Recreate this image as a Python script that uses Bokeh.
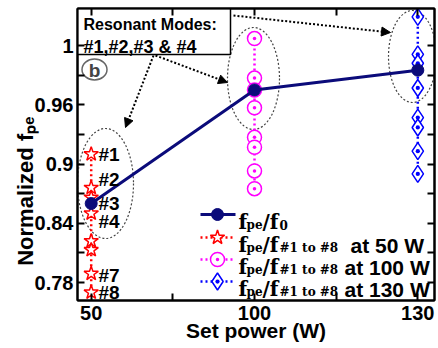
from bokeh.plotting import figure
from bokeh.models import Range1d, FixedTicker, LinearAxis, Label, Arrow, NormalHead
from bokeh.embed import file_html
from bokeh.resources import INLINE

# ---------------- data ----------------
powers = [50, 100, 130]                      # Set power (W), evenly spaced categories
fpe_over_f0 = [0.860, 0.975, 0.995]
modes_50w = [0.910, 0.876, 0.866, 0.850, 0.822, 0.813, 0.789, 0.770]
modes_100w = [1.027, 0.987, 0.975, 0.957, 0.927, 0.917, 0.893, 0.875]
modes_130w = [1.049, 1.011, 1.002, 0.977, 0.947, 0.937, 0.913, 0.890]
mode_names = ["#1", "#2", "#3", "#4", "#5", "#6", "#7", "#8"]
shown_mode_labels = ["#1", "#2", "#3", "#4", "#7", "#8"]
y_ticks = [0.78, 0.84, 0.9, 0.96, 1.02]
y_tick_labels = ["0.78", "0.84", "0.9", "0.96", "1"]
y_minor_ticks = [0.81, 0.87, 0.93, 0.99]
x_minor_ticks = [0.5, 1.5]

xpos = list(range(len(powers)))

# ---------------- helpers (layout only) ----------------
def X(px):
    return (px - 90.7) / 163.3

def Y(py):
    return 0.78 + (282 - py) / 987.5

Y_TOP = Y(8)
X_LEFT = X(77)

SANS = "Liberation Sans"
SERIF = "DejaVu Serif"

p = figure(width=438, height=348, output_backend="svg", toolbar_location=None,
           x_range=Range1d(X_LEFT, X(434)), y_range=Range1d(Y(300), Y_TOP),
           min_border_left=77, min_border_right=4, min_border_top=8,
           min_border_bottom=48)
p.grid.visible = False
p.outline_line_color = "black"
p.outline_line_width = 2
p.background_fill_color = "white"
p.border_fill_color = "white"

def style_axis(ax, show_labels):
    ax.major_tick_in = 7
    ax.major_tick_out = 0
    ax.minor_tick_in = 7
    ax.minor_tick_out = 0
    ax.major_tick_line_width = 2
    ax.minor_tick_line_width = 2
    ax.axis_line_width = 2
    ax.major_tick_line_color = "black"
    ax.minor_tick_line_color = "black"
    ax.axis_line_color = "black"
    if show_labels:
        ax.major_label_text_font = SANS
        ax.major_label_text_font_style = "bold"
        ax.major_label_text_font_size = "20px"
        ax.major_label_text_color = "black"
        ax.axis_label_text_font = SANS
        ax.axis_label_text_font_style = "bold"
        ax.axis_label_text_color = "black"
    else:
        ax.major_label_text_font_size = "1px"
        ax.major_label_standoff = 0

p.xaxis.ticker = FixedTicker(ticks=xpos, minor_ticks=x_minor_ticks)
p.xaxis.major_label_overrides = {i: str(pw) for i, pw in zip(xpos, powers)}
style_axis(p.xaxis[0], True)
p.xaxis.major_label_standoff = 5
p.xaxis.axis_label = "Set power (W)"
p.xaxis.axis_label_text_font_size = "21px"
p.xaxis.axis_label_standoff = -4

p.yaxis.ticker = FixedTicker(ticks=y_ticks, minor_ticks=y_minor_ticks)
p.yaxis.major_label_overrides = dict(zip(y_ticks, y_tick_labels))
style_axis(p.yaxis[0], True)
p.yaxis.major_label_standoff = 4
p.yaxis.axis_label = "Normalized f\u209a\u2091" + "\u00a0" * 12
p.yaxis.axis_label_text_font_size = "22px"
p.yaxis.axis_label_standoff = -6

top_ax = LinearAxis(ticker=FixedTicker(ticks=xpos, minor_ticks=x_minor_ticks),
                    major_label_overrides={i: "" for i in xpos})
style_axis(top_ax, False)
p.add_layout(top_ax, "above")
right_ax = LinearAxis(ticker=FixedTicker(ticks=y_ticks, minor_ticks=y_minor_ticks),
                      major_label_overrides={t: "" for t in y_ticks})
style_axis(right_ax, False)
p.add_layout(right_ax, "right")

# ---------------- dotted ellipses around modes #1-#4 ----------------
ell = dict(fill_color=None, line_color="#444444", line_dash="2 2", line_width=1.2)
p.ellipse(x=[X(105)], y=[Y(183)], width=56 / 163.3, height=110 / 987.5, **ell)
p.ellipse(x=[X(253)], y=[Y(78)], width=52 / 163.3, height=102 / 987.5, **ell)
p.ellipse(x=[X(412)], y=[Y(56)], width=48 / 163.3, height=92 / 987.5, **ell)

# ---------------- mode series ----------------
RED, MAG, BLUE, NAVY = "#ff0000", "#ff00ff", "#0000ff", "#0b0b7a"
p.line([xpos[0]] * len(modes_50w), modes_50w, line_color=RED, line_dash="2 3", line_width=2.5)
p.line([xpos[1]] * len(modes_100w), modes_100w, line_color=MAG, line_dash="2 3", line_width=2.5)
p.line([xpos[2]] * len(modes_130w), modes_130w, line_color=BLUE, line_dash="2 3", line_width=2.5)
p.scatter([xpos[0]] * len(modes_50w), modes_50w, marker="star", size=15,
          line_color=RED, fill_color="white", line_width=1.5)
p.scatter([xpos[1]] * len(modes_100w), modes_100w, marker="circle_dot", size=14,
          line_color=MAG, fill_color="white", line_width=1.5)
p.scatter([xpos[2]] * len(modes_130w), modes_130w, marker="diamond_dot", size=17,
          line_color=BLUE, fill_color="white", line_width=1.5)

p.line(xpos, fpe_over_f0, line_color=NAVY, line_width=3)
p.scatter(xpos, fpe_over_f0, marker="circle", size=12, line_color=NAVY, fill_color=NAVY)

# ---------------- "Resonant Modes" box and (b) badge (glyph layer) ----------------
p.quad(left=[X_LEFT], right=[X(230)], top=[Y_TOP], bottom=[Y(54)],
       fill_color="white", line_color="black", line_width=1.5)
p.ellipse(x=[X(94)], y=[Y(69)], width=25 / 163.3, height=21 / 987.5,
          fill_color="white", line_color="#666666", line_width=1.5)

# ---------------- mode labels at 50 W ----------------
label_nudge_px = {"#1": 0, "#2": -8, "#3": 6, "#4": 8, "#7": 2, "#8": 0}
for name, v in zip(mode_names, modes_50w):
    if name in shown_mode_labels:
        p.add_layout(Label(x=X(98), y=v - label_nudge_px[name] / 987.5, text=name,
                           text_font=SANS, text_font_style="bold", text_font_size="19px",
                           text_baseline="middle", text_align="left", text_color="black"))

p.add_layout(Label(x=X(94), y=Y(70), text="b", text_font=SANS, text_font_style="bold",
                   text_font_size="19px", text_align="center", text_baseline="middle"))
p.add_layout(Label(x=X(83), y=Y(24), text="Resonant Modes:", text_font=SANS,
                   text_font_style="bold", text_font_size="16px", text_baseline="alphabetic",
                   text_color="black"))
p.add_layout(Label(x=X(83), y=Y(46), text="#1,#2,#3 & #4", text_font=SANS,
                   text_font_style="bold", text_font_size="18px", text_baseline="alphabetic",
                   text_color="black"))

for (xs, ys, xe, ye) in [(153, 55, 125, 127), (155, 55, 227, 82), (233, 15, 390, 32)]:
    p.add_layout(Arrow(end=NormalHead(size=9, fill_color="black", line_color="black"),
                       x_start=X(xs), y_start=Y(ys), x_end=X(xe), y_end=Y(ye),
                       line_color="black", line_dash="2 2", line_width=2))

# ---------------- manual legend ----------------
rows_y = [214, 237, 259, 281]
p.line([X(200), X(235)], [Y(rows_y[0])] * 2, line_color=NAVY, line_width=3)
p.scatter([X(217)], [Y(rows_y[0])], marker="circle", size=12, line_color=NAVY, fill_color=NAVY)
for ry, col, mk, sz in [(rows_y[1], RED, "star", 15), (rows_y[2], MAG, "circle_dot", 14),
                        (rows_y[3], BLUE, "diamond_dot", 17)]:
    p.line([X(200), X(235)], [Y(ry)] * 2, line_color=col, line_dash="2 3", line_width=2.5)
    p.scatter([X(217)], [Y(ry)], marker=mk, size=sz, line_color=col, fill_color="white",
              line_width=1.5)

def piece(txt, px, py, size, font=SERIF):
    p.add_layout(Label(x=X(px), y=Y(py), text=txt, text_font=font, text_font_style="bold",
                       text_font_size=size, text_baseline="alphabetic", text_align="left",
                       text_color="black"))

subs = ["0", "#1 to #8", "#1 to #8", "#1 to #8"]
tails = [None, "at 50 W", "at 100 W", "at 130 W"]
tail_x = [None, 350, 344, 344]
for ry, sub, tail, tx in zip(rows_y, subs, tails, tail_x):
    piece("f", 238, ry + 7, "20px")
    piece("pe", 246, ry + 10, "12px")
    piece("/f", 262, ry + 7, "20px")
    piece(sub, 279, ry + 10, "12px")
    if tail:
        piece(tail, tx, ry + 8, "21px", SANS)

open("out.html", "w").write(file_html(p, INLINE))
